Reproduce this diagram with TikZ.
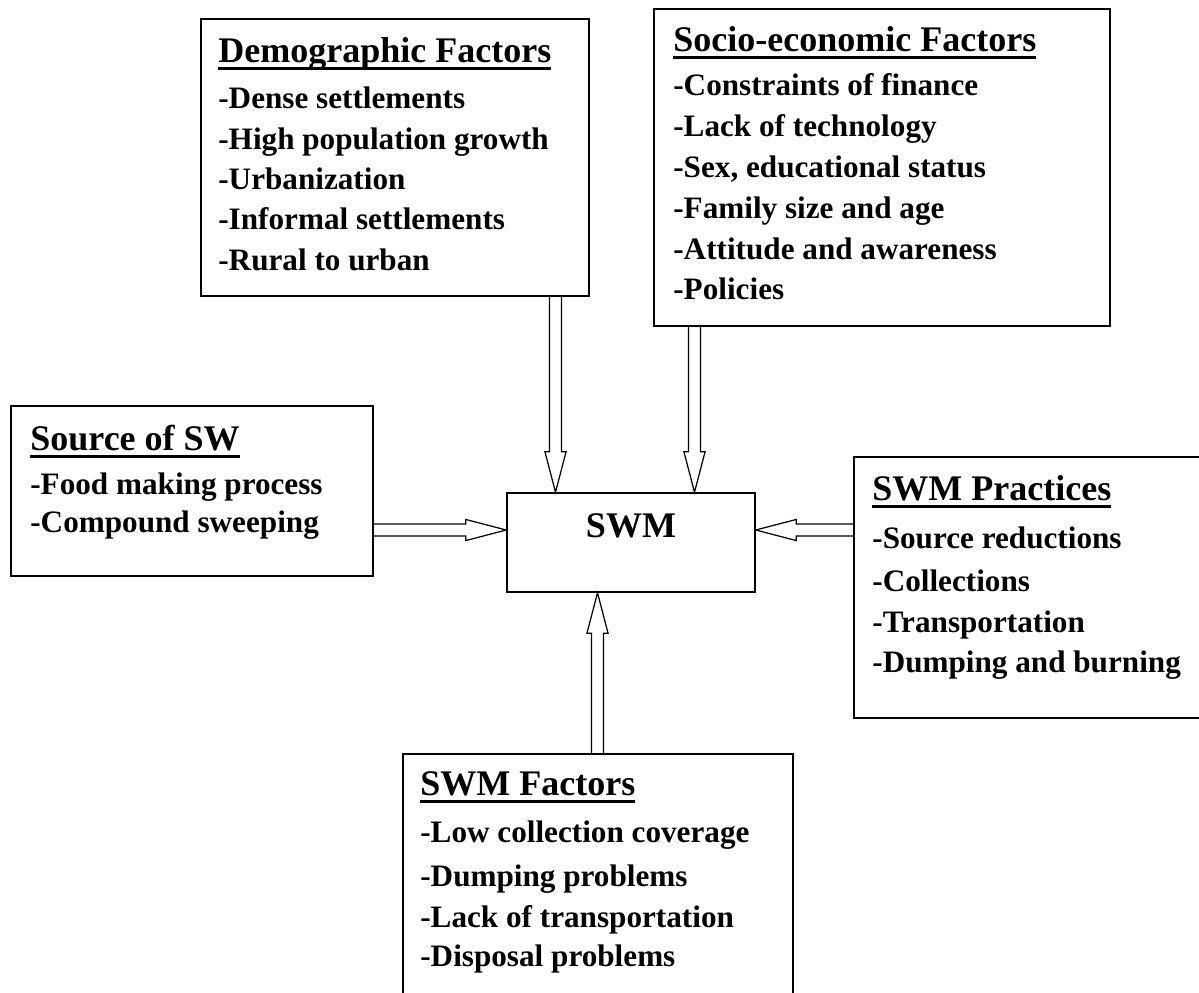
\documentclass[tikz,border=0pt]{standalone}
\usepackage{fontspec}
\setmainfont{Liberation Serif}
\usetikzlibrary{calc}

% heading with a thick underline (fixed strut so the top is known)
\newcommand{\ulhead}[1]{\setbox0\hbox{\fontsize{20.5}{24}\selectfont #1}\vrule height 16pt depth 0pt width 0pt\rlap{\rule[-4.2pt]{\wd0}{1.6pt}}\box0}

\tikzset{
  box/.style={draw, line width=0.9pt, inner sep=0pt, anchor=north west},
  txt/.style={font=\bfseries\fontsize{17.75}{#1}\selectfont, align=left, inner sep=0pt, anchor=north west},
  txt/.default=23pt,
  hollow/.style={line width=0.7pt, line join=miter, to path={
      let \p1=($(\tikztotarget)!23pt!(\tikztostart)$) in
      ($(\tikztostart)!3.4pt!90:(\tikztotarget)$) -- ($(\p1)!3.4pt!90:(\tikztotarget)$)
      -- ($(\p1)!6pt!90:(\tikztotarget)$) -- (\tikztotarget)
      -- ($(\p1)!6pt!-90:(\tikztotarget)$) -- ($(\p1)!3.4pt!-90:(\tikztotarget)$)
      -- ($(\tikztostart)!3.4pt!-90:(\tikztotarget)$)}},
}

\begin{document}
\begin{tikzpicture}[x=0.02cm, y=-0.02cm]
    \useasboundingbox (0,0) rectangle (1199,992);
    \clip (0,0) rectangle (1199,992);
    % boxes
    \node[box, minimum width=7.76cm, minimum height=5.54cm] (demo) at (200,18) {};
    \node[box, minimum width=9.12cm, minimum height=6.34cm] (socio) at (653,8) {};
    \node[box, minimum width=7.24cm, minimum height=3.4cm] (src) at (10,405) {};
    \node[box, minimum width=7.24cm, minimum height=5.22cm] (prac) at (853,456) {};
    \node[box, minimum width=7.8cm, minimum height=5.2cm] (fac) at (402,753) {};
    \node[box, anchor=base, minimum width=4.96cm, text height=0.88cm, text depth=1.1cm,
          font=\bfseries\fontsize{20.5}{24}\selectfont] (swm) at (631,537) {SWM};
    % box texts (title baseline sits 28.2 below the given point)
    \node[txt=23pt] (demotxt) at (218,33.8) {\ulhead{Demographic Factors}\\[3.4pt]
        -Dense settlements\\ -High population growth\\ -Urbanization\\
        -Informal settlements\\ -Rural to urban};
    \node[txt=23.25pt] (sociotxt) at (673,22.8) {\ulhead{Socio-economic Factors}\\[2pt]
        -Constraints of finance\\ -Lack of technology\\ -Sex, educational status\\
        -Family size and age\\ -Attitude and awareness\\ -Policies};
    \node[txt=22pt] (srctxt) at (30,421.8) {\ulhead{Source of SW}\\[2.9pt]
        -Food making process\\ -Compound sweeping};
    \node[txt=22.7pt] (practxt) at (872,471.8) {\ulhead{SWM Practices}\\[4.5pt]
        -Source reductions\\[2.3pt] -Collections\\[0.6pt] -Transportation\\
        -Dumping and burning};
    \node[txt=22.1pt] (factxt) at (420,766.8) {\ulhead{SWM Factors}\\[4.5pt]
        -Low collection coverage\\[3.4pt] -Dumping problems\\[1.1pt]
        -Lack of transportation\\ -Disposal problems};
    % arrows into SWM
    \coordinate (demoOut) at (555.5,295);
    \coordinate (socioOut) at (694.5,325);
    \coordinate (srcOut) at (372,530);
    \coordinate (pracOut) at (853,530);
    \coordinate (facOut) at (597.5,753);
    \draw[hollow] (demoOut) to (demoOut |- swm.north);
    \draw[hollow] (socioOut) to (socioOut |- swm.north);
    \draw[hollow] (srcOut) to (srcOut -| swm.west);
    \draw[hollow] (pracOut) to (pracOut -| swm.east);
    \draw[hollow] (facOut) to (facOut |- swm.south);
\end{tikzpicture}
\end{document}
